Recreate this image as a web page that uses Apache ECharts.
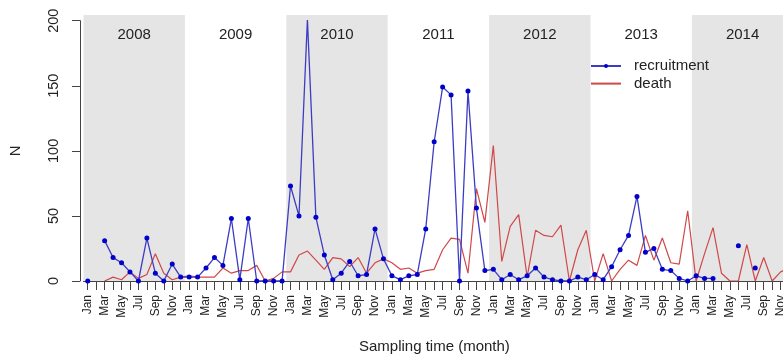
<!DOCTYPE html>
<html>
<head>
<meta charset="utf-8">
<script src="https://cdn.jsdelivr.net/npm/echarts@6/dist/echarts.min.js"></script>
<style>
html,body{margin:0;padding:0;background:#fff;overflow:hidden;}
#chart{width:800px;height:360px;}
</style>
</head>
<body>
<div id="chart"></div>
<script>
// ---- data ----
var years = ['2008', '2009', '2010', '2011', '2012', '2013', '2014'];
var yearShaded = [1, 0, 1, 0, 1, 0, 1];
var monthNames = ['Jan','Feb','Mar','Apr','May','Jun','Jul','Aug','Sep','Oct','Nov','Dec'];
var yTicks = [0, 50, 100, 150, 200];

var recruitment = [
  0, null, 31, 18, 14, 7, 0, 33, 6, 0, 13, 3,        // 2008
  3, 3, 10, 18, 12, 48, 1, 48, 0, 0, 0, 0,          // 2009
  73, 50, 201, 49, 20, 1, 6, 15, 4, 5, 40, 17,      // 2010
  4, 1, 4, 5, 40, 107, 149, 143, 0, 146, 56, 8,     // 2011
  9, 1, 5, 1, 4, 10, 3, 1, 0, 0, 3, 1,              // 2012
  5, 1, 11, 24, 35, 65, 22, 25, 9, 8, 2, 0,         // 2013
  4, 2, 2, null, null, 27, null, 10, null, null, null, null // 2014
];
var death = [
  null, null, 0, 3, 1, 7, 2, 5, 21, 6, 1, 3,        // 2008
  4, 3, 3, 3, 10, 6, 8, 8, 12, 0, 2, 7,             // 2009
  7, 20, 23, 16, 9, 18, 17, 11, 18, 6, 14, 17,      // 2010
  14, 9, 10, 6, 8, 9, 24, 33, 32, 6, 71, 45,        // 2011
  104, 15, 42, 51, 3, 39, 35, 34, 43, 0, 24, 39,    // 2012
  0, 21, 0, 9, 16, 12, 35, 16, 33, 14, 13, 54,      // 2013
  0, 21, 41, 6, 0, 0, 28, 0, 18, 0, 7, 10           // 2014
];

// ---- build ----
var months = [];
years.forEach(function () { monthNames.forEach(function (m) { months.push(m); }); });

var FONT = '"Liberation Sans", Arial, sans-serif';
var TXT = '#222';
var AX = '#444';
var G_LEFT = 83.5, G_WIDTH = 709.8;

var chart = echarts.init(document.getElementById('chart'), null, {renderer: 'canvas'});
chart.setOption({
  animation: false,
  backgroundColor: '#fff',
  textStyle: {fontFamily: FONT},
  grid: [
    {left: G_LEFT, width: G_WIDTH, top: 15, height: 266},
    {left: G_LEFT, width: G_WIDTH, top: 20.7, height: 260.3}
  ],
  legend: {
    orient: 'vertical', left: 585, top: 53.5,
    itemWidth: 30, itemHeight: 5, itemGap: 2.6,
    textStyle: {fontSize: 15, color: TXT, fontFamily: FONT, padding: [0, 0, 0, 8]},
    data: [
      {name: 'recruitment'},
      {name: 'death', itemStyle: {opacity: 0}}
    ]
  },
  xAxis: [
    {gridIndex: 0, type: 'category', data: years, show: false, boundaryGap: true},
    {
      gridIndex: 1, type: 'category', data: months, boundaryGap: true,
      axisLine: {show: true, lineStyle: {color: AX, width: 1}},
      axisTick: {show: true, interval: 0, alignWithLabel: true, length: 9, lineStyle: {color: AX}},
      axisLabel: {interval: 1, rotate: 90, fontSize: 12, margin: 14, color: TXT, fontFamily: FONT},
      splitLine: {show: false},
      name: 'Sampling time (month)', nameLocation: 'middle', nameGap: 58.5,
      nameTextStyle: {fontSize: 15, color: TXT, fontFamily: FONT, padding: [0, 8, 0, 0]}
    }
  ],
  yAxis: [
    {gridIndex: 0, type: 'value', min: 0, max: 1, show: false},
    {
      gridIndex: 1, type: 'value', min: yTicks[0], max: yTicks[yTicks.length - 1],
      interval: yTicks[1] - yTicks[0], offset: 3.5,
      axisLine: {show: true, lineStyle: {color: AX, width: 1}},
      axisTick: {show: true, length: 8, lineStyle: {color: AX}},
      axisLabel: {rotate: 90, fontSize: 14.5, margin: 19, color: TXT, fontFamily: FONT},
      splitLine: {show: false},
      name: 'N', nameLocation: 'middle', nameGap: 57,
      nameTextStyle: {fontSize: 15, color: TXT, fontFamily: FONT}
    }
  ],
  series: [
    {
      type: 'bar', xAxisIndex: 0, yAxisIndex: 0, silent: true,
      barCategoryGap: '0%', barGap: '0%',
      data: years.map(function (y, i) {
        return {value: 1, itemStyle: {color: yearShaded[i] ? '#e5e5e5' : 'rgba(0,0,0,0)'}};
      }),
      label: {show: true, position: 'insideTop', distance: 12.5, formatter: '{b}',
              fontSize: 15, color: TXT, fontFamily: FONT},
      z: 0
    },
    {
      name: 'death', type: 'line', xAxisIndex: 1, yAxisIndex: 1,
      data: death, symbol: 'none', connectNulls: false,
      lineStyle: {color: '#d04848', width: 1.2}, itemStyle: {color: '#d04848'},
      z: 3
    },
    {
      name: 'recruitment', type: 'line', xAxisIndex: 1, yAxisIndex: 1,
      data: recruitment, symbol: 'circle', symbolSize: 5, showSymbol: true, showAllSymbol: true,
      connectNulls: false,
      lineStyle: {color: '#3c3cc4', width: 1.3}, itemStyle: {color: '#0000cc'},
      z: 4
    }
  ]
});
</script>
</body>
</html>
